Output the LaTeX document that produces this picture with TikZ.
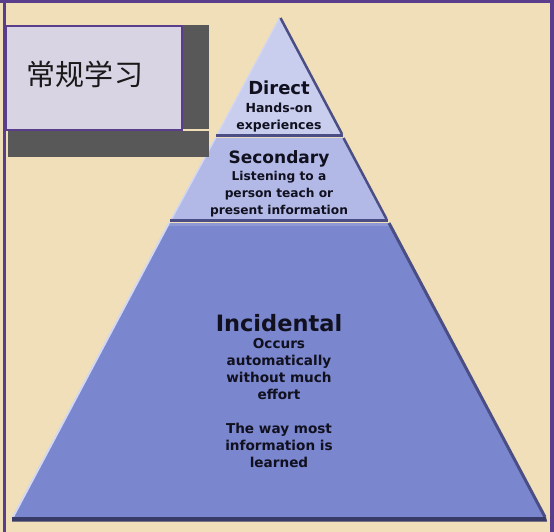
\documentclass[tikz,border=0pt]{standalone}
\usepackage{fontspec}
\setmainfont{DejaVu Sans}
\newfontfamily\cjk{Noto Sans CJK SC}
\definecolor{parch}{HTML}{F0DFB9}
\definecolor{frame}{HTML}{5A3E8C}
\definecolor{tierA}{HTML}{C9CDEE}
\definecolor{tierB}{HTML}{B3B9E6}
\definecolor{tierC}{HTML}{7A86CD}
\definecolor{edgeD}{HTML}{4A4E84}
\definecolor{edgeL}{HTML}{D2D8F4}
\definecolor{baseD}{HTML}{383B68}
\definecolor{ink}{HTML}{10101F}
\definecolor{lav}{HTML}{D8D4E3}
\definecolor{shad}{HTML}{585858}
\tikzset{
  head/.style={font=\bfseries\fontsize{#1}{#1}\selectfont, text=ink, inner sep=0pt, anchor=base},
  body/.style={font=\bfseries\fontsize{#1}{17}\selectfont, text=ink, inner sep=0pt, anchor=north, align=center},
}
\begin{document}
\begin{tikzpicture}[x=1pt,y=-1pt]
\useasboundingbox (0,0) rectangle (554,532);
\fill[parch] (0,0) rectangle (554,532);
% frame
\fill[frame] (0,0) rectangle (554,3.5);
\fill[frame] (2.5,0) rectangle (5.5,532);
\fill[frame] (550,0) rectangle (554,532);
% ---- pyramid ----
% bottom tier
\fill[tierC] (169,223) -- (389,223) -- (546,518) -- (12,518) -- cycle;
\fill[tierC!85!white] (169,223) -- (389,223) -- (390.6,226) -- (167.4,226) -- cycle;
\draw[edgeL, line width=2pt] (169,223) -- (13,517);
\draw[edgeD, line width=3pt] (389,223) -- (545,517);
\fill[baseD] (12,517) -- (546,517) -- (547,521.5) -- (12,521.5) -- cycle;
% middle tier
\fill[tierB] (215.5,138) -- (343.5,138) -- (387,220) -- (171,220) -- cycle;
\draw[edgeL, line width=1.5pt] (215.5,138) -- (171.5,219);
\draw[edgeD, line width=2.5pt] (343.5,138) -- (386.5,219);
\fill[edgeD] (170,218.5) rectangle (388,222);
% top tier
\fill[tierA] (279.5,17) -- (342,135) -- (217,135) -- cycle;
\draw[edgeL, line width=1.2pt] (279.5,18) -- (217.5,134);
\draw[edgeD, line width=2.5pt] (280.5,18) -- (342,134);
\fill[edgeD] (216,134) rectangle (343,137);
% ---- texts ----
\node[head=18] (direct) at (279,95) {Direct};
\node[body=12.5] (directb) at (279,103) {Hands-on\\experiences};
\node[head=17] (second) at (279,163) {Secondary};
\node[body=12.2] (secondb) at (279,171) {Listening to a\\person teach or\\present information};
\node[head=22.5] (incid) at (279,331) {Incidental};
\node[body=13.6] (incidb) at (279,338) {Occurs\\automatically\\without much\\effort\\[17pt]The way most\\information is\\learned};
% ---- label box ----
\fill[shad] (181,25) rectangle (209,129);
\fill[shad] (8,131) rectangle (209,157);
\node[draw=frame, line width=2pt, fill=lav, minimum width=176pt, minimum height=104pt, inner sep=0pt, anchor=north west] (label) at (5,25) {};
\node[font=\cjk\fontsize{29}{29}\selectfont, text=black!90, inner sep=0pt] (labeltxt) at (85,74) {常规学习};
\end{tikzpicture}
\end{document}
